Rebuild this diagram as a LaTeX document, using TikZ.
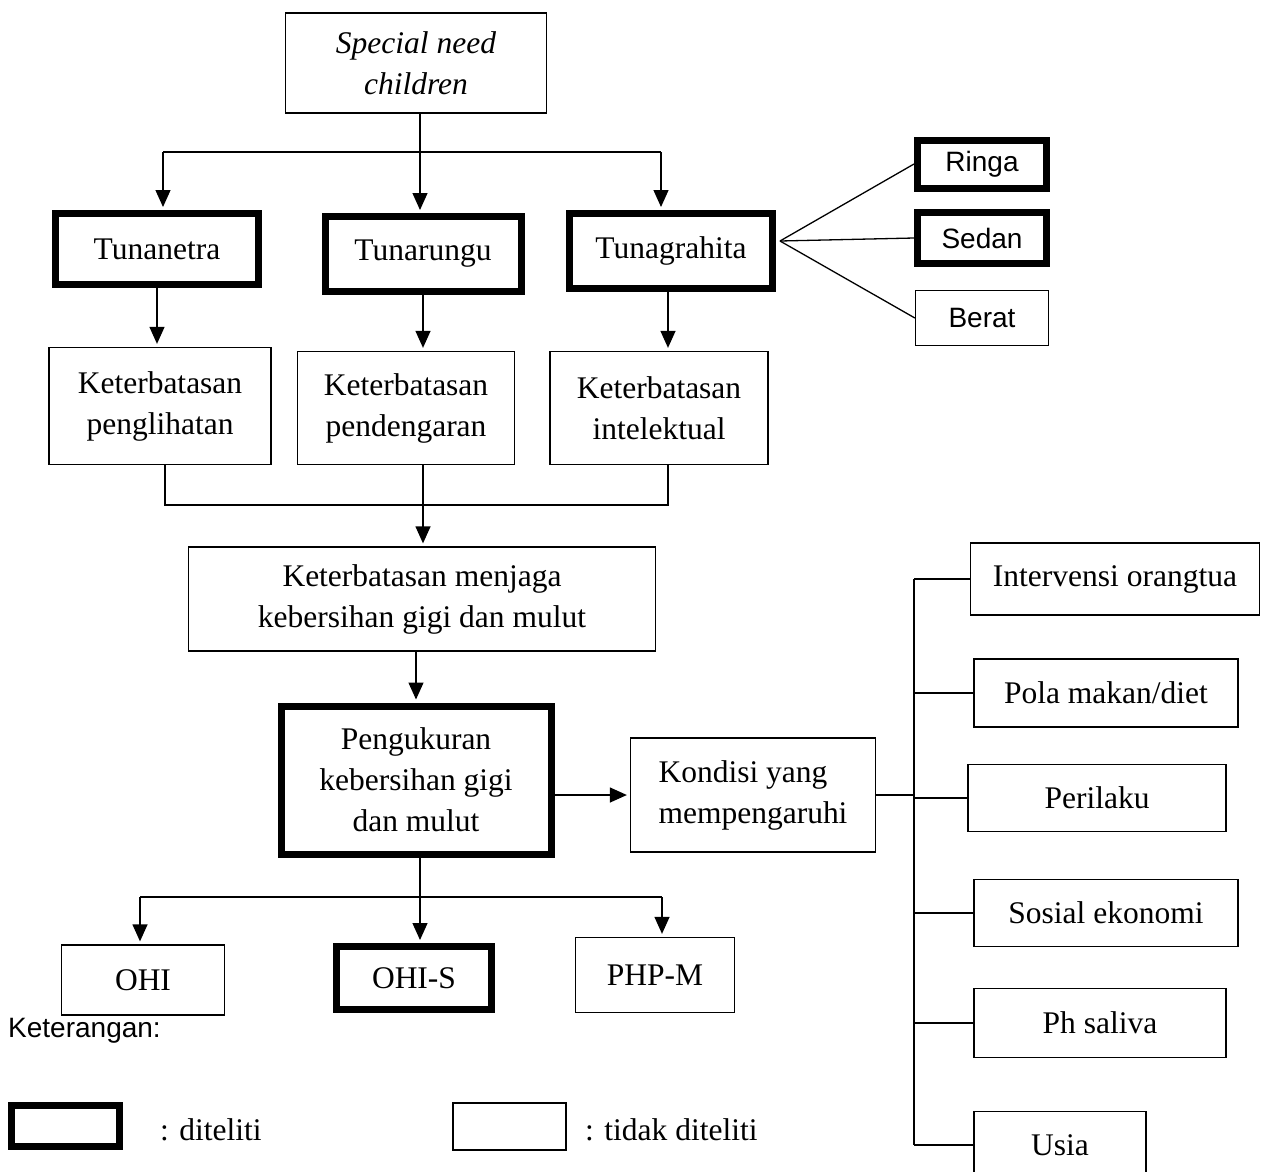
\documentclass[tikz,border=0pt]{standalone}
\usepackage{fontspec}
\setmainfont{Liberation Serif}
\newfontfamily\arialfont{Liberation Sans}
\usepackage{tikz}
\usetikzlibrary{shapes,arrows.meta,positioning}

\tikzset{
    box/.style={draw,line width=1.3pt,align=center,inner sep=0pt,font=\fontsize{31.5}{41}\selectfont},
    boldbox/.style={box,line width=7pt},
    sansbox/.style={font=\arialfont\fontsize{28}{34}\selectfont},
    txt/.style={inner sep=0pt,anchor=west,font=\fontsize{31.5}{41}\selectfont},
    line/.style={line width=1.3pt},
    arr/.style={line,-{Triangle[width=15pt,length=17pt]},shorten >=3pt},
}

\begin{document}
\begin{tikzpicture}[x=1pt,y=-1pt]
    \useasboundingbox (0,0) rectangle (1261,1171);

    % top row
    \node[box,minimum width=261,minimum height=100] (snc) at (416,63) {\textit{Special need}\\\textit{children}};
    \node[boldbox,minimum width=203,minimum height=71] (tn) at (157,249) {Tunanetra};
    \node[boldbox,minimum width=196,minimum height=75] (tr) at (423,254) {Tunarungu};
    \node[boldbox,minimum width=203,minimum height=75] (tg) at (671,251) {Tunagrahita};

    \node[boldbox,sansbox,minimum width=129,minimum height=48] (ringa) at (982,164) {Ringa};
    \node[boldbox,sansbox,minimum width=129,minimum height=51] (sedan) at (982,238) {Sedan};
    \node[box,sansbox,minimum width=133,minimum height=55] (berat) at (982,318) {Berat};

    \node[box,minimum width=222,minimum height=117] (kp) at (160,406) {Keterbatasan\\penglihatan};
    \node[box,minimum width=217,minimum height=113] (kd) at (406,408) {Keterbatasan\\pendengaran};
    \node[box,minimum width=218,minimum height=113] (ki) at (659,408) {Keterbatasan\\intelektual};

    \node[box,minimum width=467,minimum height=104] (km) at (422,599) {Keterbatasan menjaga\\kebersihan gigi dan mulut};
    \node[boldbox,minimum width=270,minimum height=148] (peng) at (416,780) {Pengukuran\\kebersihan gigi\\dan mulut};
    \node[box,align=left,minimum width=245,minimum height=114] (kond) at (753,795) {Kondisi yang\\mempengaruhi};

    % faktor
    \node[box,minimum width=289,minimum height=72] (io) at (1115,579) {Intervensi orangtua};
    \node[box,minimum width=264,minimum height=68] (pm) at (1106,693) {Pola makan/diet};
    \node[box,minimum width=258,minimum height=67] (pr) at (1097,798) {Perilaku};
    \node[box,minimum width=264,minimum height=67] (se) at (1106,913) {Sosial ekonomi};
    \node[box,minimum width=252,minimum height=69] (ph) at (1100,1023) {Ph saliva};
    \node[box,minimum width=172,minimum height=67] (us) at (1060,1145) {Usia};

    % indeks
    \node[box,minimum width=163,minimum height=70] (ohi) at (143,980) {OHI};
    \node[boldbox,minimum width=155,minimum height=63] (ohis) at (414,978) {OHI-S};
    \node[box,minimum width=159,minimum height=75] (phpm) at (655,975) {PHP-M};

    % connectors
    \coordinate (f1) at (163,152);
    \coordinate (f2) at (420,152);
    \coordinate (f3) at (661,152);
    \draw[line] (snc.south -| f2) -- (f2);
    \draw[line] (f1) -- (f3);
    \draw[arr] (f1) -- (f1 |- tn.north);
    \draw[arr] (f2) -- (f2 |- tr.north);
    \draw[arr] (f3) -- (f3 |- tg.north);

    \coordinate (tgr) at (780,241);
    \draw[line] (tgr) -- (ringa.west);
    \draw[line] (tgr) -- (sedan.west);
    \draw[line] (tgr) -- (berat.west);

    \draw[arr] (tn.south) -- (tn.south |- kp.north);
    \draw[arr] (tr.south) -- (tr.south |- kd.north);
    \draw[arr] (tg.south -| 668,0) -- (ki.north -| 668,0);

    \coordinate (j1) at (165,505);
    \coordinate (j2) at (423,505);
    \coordinate (j3) at (668,505);
    \draw[line] (kp.south -| j1) -- (j1) -- (j3) -- (ki.south -| j3);
    \draw[arr] (kd.south -| j2) -- (km.north -| j2);

    \draw[arr] (km.south -| peng.north) -- (peng.north);
    \draw[arr] (peng.east |- kond.west) -- (kond.west);

    \coordinate (br) at (914,798);
    \draw[line] (kond.east) -- (kond.east -| br);
    \draw[line] (br |- io.west) -- (br |- us.west);
    \foreach \n in {io,pm,pr,se,ph,us}
        \draw[line] (br |- \n.west) -- (\n.west);

    \coordinate (g1) at (140,897);
    \coordinate (g2) at (420,897);
    \coordinate (g3) at (662,897);
    \draw[line] (peng.south -| g2) -- (g2);
    \draw[line] (g1) -- (g3);
    \draw[arr] (g1) -- (g1 |- ohi.north);
    \draw[arr] (g2) -- (g2 |- ohis.north);
    \draw[arr] (g3) -- (g3 |- phpm.north);

    % keterangan
    \node[txt,font=\arialfont\fontsize{28}{34}\selectfont] (ket) at (8,1031) {Keterangan:};
    \node[boldbox,minimum width=108,minimum height=41] (lg1) at (65.5,1126) {};
    \node[txt] (lt1) at (160,1130) {: diteliti};
    \node[box,minimum width=113,minimum height=47] (lg2) at (509.5,1126.5) {};
    \node[txt] (lt2) at (585,1130) {: tidak diteliti};
\end{tikzpicture}
\end{document}
